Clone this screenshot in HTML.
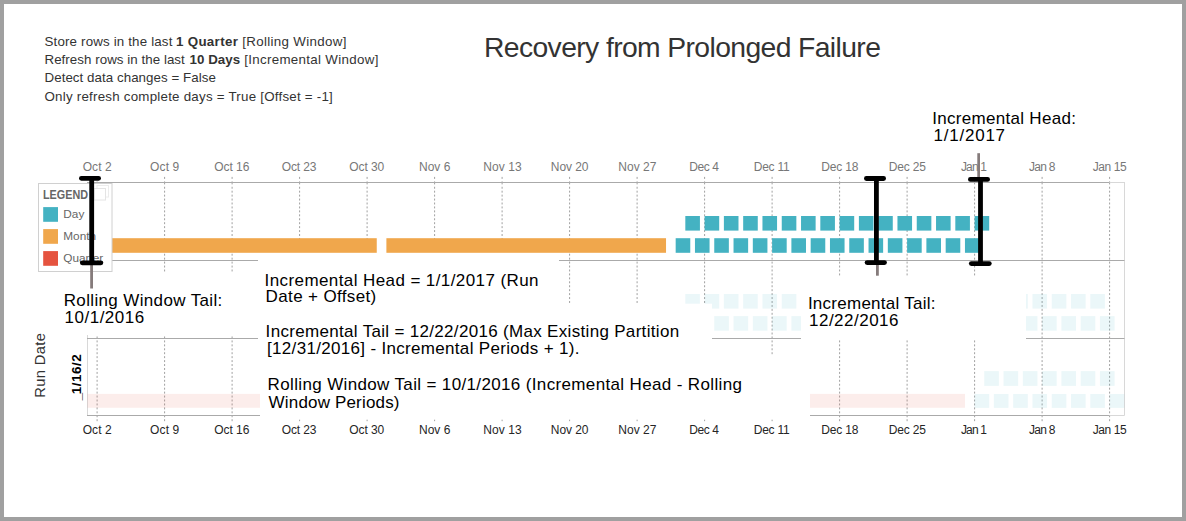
<!DOCTYPE html><html><head><meta charset="utf-8"><title>Recovery from Prolonged Failure</title><style>html,body{margin:0;padding:0;background:#a0a0a0;}svg{display:block}text{font-family:"Liberation Sans",Arial,sans-serif;}</style></head><body>
<svg width="1186" height="521" viewBox="0 0 1186 521">
<rect x="0" y="0" width="1186" height="521" fill="#a0a0a0"/>
<rect x="4" y="4" width="1178" height="513" fill="#ffffff"/>
<g stroke="#a0a0a0" stroke-width="1">
<line x1="97.1" y1="176.9" x2="97.1" y2="178.9"/>
<line x1="97.1" y1="181.4" x2="97.1" y2="184.4"/>
<line x1="97.1" y1="186.75" x2="97.1" y2="421.6" stroke-dasharray="1.97 1.97"/>
<line x1="164.6" y1="176.9" x2="164.6" y2="178.9"/>
<line x1="164.6" y1="181.4" x2="164.6" y2="184.4"/>
<line x1="164.6" y1="186.75" x2="164.6" y2="421.6" stroke-dasharray="1.97 1.97"/>
<line x1="232.1" y1="176.9" x2="232.1" y2="178.9"/>
<line x1="232.1" y1="181.4" x2="232.1" y2="184.4"/>
<line x1="232.1" y1="186.75" x2="232.1" y2="421.6" stroke-dasharray="1.97 1.97"/>
<line x1="299.6" y1="176.9" x2="299.6" y2="178.9"/>
<line x1="299.6" y1="181.4" x2="299.6" y2="184.4"/>
<line x1="299.6" y1="186.75" x2="299.6" y2="421.6" stroke-dasharray="1.97 1.97"/>
<line x1="367.1" y1="176.9" x2="367.1" y2="178.9"/>
<line x1="367.1" y1="181.4" x2="367.1" y2="184.4"/>
<line x1="367.1" y1="186.75" x2="367.1" y2="421.6" stroke-dasharray="1.97 1.97"/>
<line x1="434.6" y1="176.9" x2="434.6" y2="178.9"/>
<line x1="434.6" y1="181.4" x2="434.6" y2="184.4"/>
<line x1="434.6" y1="186.75" x2="434.6" y2="421.6" stroke-dasharray="1.97 1.97"/>
<line x1="502.1" y1="176.9" x2="502.1" y2="178.9"/>
<line x1="502.1" y1="181.4" x2="502.1" y2="184.4"/>
<line x1="502.1" y1="186.75" x2="502.1" y2="421.6" stroke-dasharray="1.97 1.97"/>
<line x1="569.6" y1="176.9" x2="569.6" y2="178.9"/>
<line x1="569.6" y1="181.4" x2="569.6" y2="184.4"/>
<line x1="569.6" y1="186.75" x2="569.6" y2="421.6" stroke-dasharray="1.97 1.97"/>
<line x1="637.1" y1="176.9" x2="637.1" y2="178.9"/>
<line x1="637.1" y1="181.4" x2="637.1" y2="184.4"/>
<line x1="637.1" y1="186.75" x2="637.1" y2="421.6" stroke-dasharray="1.97 1.97"/>
<line x1="704.6" y1="176.9" x2="704.6" y2="178.9"/>
<line x1="704.6" y1="181.4" x2="704.6" y2="184.4"/>
<line x1="704.6" y1="186.75" x2="704.6" y2="421.6" stroke-dasharray="1.97 1.97"/>
<line x1="772.1" y1="176.9" x2="772.1" y2="178.9"/>
<line x1="772.1" y1="181.4" x2="772.1" y2="184.4"/>
<line x1="772.1" y1="186.75" x2="772.1" y2="421.6" stroke-dasharray="1.97 1.97"/>
<line x1="839.6" y1="176.9" x2="839.6" y2="178.9"/>
<line x1="839.6" y1="181.4" x2="839.6" y2="184.4"/>
<line x1="839.6" y1="186.75" x2="839.6" y2="421.6" stroke-dasharray="1.97 1.97"/>
<line x1="907.1" y1="176.9" x2="907.1" y2="178.9"/>
<line x1="907.1" y1="181.4" x2="907.1" y2="184.4"/>
<line x1="907.1" y1="186.75" x2="907.1" y2="421.6" stroke-dasharray="1.97 1.97"/>
<line x1="974.6" y1="176.9" x2="974.6" y2="178.9"/>
<line x1="974.6" y1="181.4" x2="974.6" y2="184.4"/>
<line x1="974.6" y1="186.75" x2="974.6" y2="421.6" stroke-dasharray="1.97 1.97"/>
<line x1="1042.1" y1="176.9" x2="1042.1" y2="178.9"/>
<line x1="1042.1" y1="181.4" x2="1042.1" y2="184.4"/>
<line x1="1042.1" y1="186.75" x2="1042.1" y2="421.6" stroke-dasharray="1.97 1.97"/>
<line x1="1109.6" y1="176.9" x2="1109.6" y2="178.9"/>
<line x1="1109.6" y1="181.4" x2="1109.6" y2="184.4"/>
<line x1="1109.6" y1="186.75" x2="1109.6" y2="421.6" stroke-dasharray="1.97 1.97"/>
</g>
<g stroke="#d8d8d8" stroke-width="1" fill="none">
<line x1="1109" y1="182.5" x2="1124.5" y2="182.5"/>
<line x1="87.5" y1="182" x2="87.5" y2="415"/>
<line x1="1124.5" y1="182" x2="1124.5" y2="415.5"/>
<line x1="1109" y1="415.5" x2="1124.5" y2="415.5"/>
</g>
<g stroke="#aaaaaa" stroke-width="1" fill="none">
<line x1="87" y1="182.5" x2="1109.5" y2="182.5"/>
<line x1="87" y1="260.5" x2="1124.5" y2="260.5"/>
<line x1="87" y1="338.5" x2="1124.5" y2="338.5"/>
<line x1="87" y1="415.5" x2="1109.5" y2="415.5"/>
</g>
<rect x="87.46" y="238.2" width="289.29" height="14.6" fill="#f0a74c"/>
<rect x="386.39" y="238.2" width="279.64" height="14.6" fill="#f0a74c"/>
<rect x="685.32" y="216.0" width="14.60" height="14.6" fill="#44b2c2"/>
<rect x="704.60" y="216.0" width="14.60" height="14.6" fill="#44b2c2"/>
<rect x="723.89" y="216.0" width="14.60" height="14.6" fill="#44b2c2"/>
<rect x="743.17" y="216.0" width="14.60" height="14.6" fill="#44b2c2"/>
<rect x="762.46" y="216.0" width="14.60" height="14.6" fill="#44b2c2"/>
<rect x="781.75" y="216.0" width="14.60" height="14.6" fill="#44b2c2"/>
<rect x="801.03" y="216.0" width="14.60" height="14.6" fill="#44b2c2"/>
<rect x="820.32" y="216.0" width="14.60" height="14.6" fill="#44b2c2"/>
<rect x="839.60" y="216.0" width="14.60" height="14.6" fill="#44b2c2"/>
<rect x="858.89" y="216.0" width="14.60" height="14.6" fill="#44b2c2"/>
<rect x="878.17" y="216.0" width="14.60" height="14.6" fill="#44b2c2"/>
<rect x="897.46" y="216.0" width="14.60" height="14.6" fill="#44b2c2"/>
<rect x="916.75" y="216.0" width="14.60" height="14.6" fill="#44b2c2"/>
<rect x="936.03" y="216.0" width="14.60" height="14.6" fill="#44b2c2"/>
<rect x="955.32" y="216.0" width="14.60" height="14.6" fill="#44b2c2"/>
<rect x="974.60" y="216.0" width="14.60" height="14.6" fill="#44b2c2"/>
<rect x="675.67" y="238.2" width="14.60" height="14.6" fill="#44b2c2"/>
<rect x="694.96" y="238.2" width="14.60" height="14.6" fill="#44b2c2"/>
<rect x="714.25" y="238.2" width="14.60" height="14.6" fill="#44b2c2"/>
<rect x="733.53" y="238.2" width="14.60" height="14.6" fill="#44b2c2"/>
<rect x="752.82" y="238.2" width="14.60" height="14.6" fill="#44b2c2"/>
<rect x="772.10" y="238.2" width="14.60" height="14.6" fill="#44b2c2"/>
<rect x="791.39" y="238.2" width="14.60" height="14.6" fill="#44b2c2"/>
<rect x="810.67" y="238.2" width="14.60" height="14.6" fill="#44b2c2"/>
<rect x="829.96" y="238.2" width="14.60" height="14.6" fill="#44b2c2"/>
<rect x="849.25" y="238.2" width="14.60" height="14.6" fill="#44b2c2"/>
<rect x="868.53" y="238.2" width="14.60" height="14.6" fill="#44b2c2"/>
<rect x="887.82" y="238.2" width="14.60" height="14.6" fill="#44b2c2"/>
<rect x="907.10" y="238.2" width="14.60" height="14.6" fill="#44b2c2"/>
<rect x="926.39" y="238.2" width="14.60" height="14.6" fill="#44b2c2"/>
<rect x="945.68" y="238.2" width="14.60" height="14.6" fill="#44b2c2"/>
<rect x="964.96" y="238.2" width="14.60" height="14.6" fill="#44b2c2"/>
<rect x="685.32" y="294.0" width="14.60" height="14.6" fill="#44b2c2" fill-opacity="0.105"/>
<rect x="704.60" y="294.0" width="14.60" height="14.6" fill="#44b2c2" fill-opacity="0.105"/>
<rect x="723.89" y="294.0" width="14.60" height="14.6" fill="#44b2c2" fill-opacity="0.105"/>
<rect x="743.17" y="294.0" width="14.60" height="14.6" fill="#44b2c2" fill-opacity="0.105"/>
<rect x="762.46" y="294.0" width="14.60" height="14.6" fill="#44b2c2" fill-opacity="0.105"/>
<rect x="781.75" y="294.0" width="14.60" height="14.6" fill="#44b2c2" fill-opacity="0.105"/>
<rect x="801.03" y="294.0" width="14.60" height="14.6" fill="#44b2c2" fill-opacity="0.105"/>
<rect x="820.32" y="294.0" width="14.60" height="14.6" fill="#44b2c2" fill-opacity="0.105"/>
<rect x="839.60" y="294.0" width="14.60" height="14.6" fill="#44b2c2" fill-opacity="0.105"/>
<rect x="858.89" y="294.0" width="14.60" height="14.6" fill="#44b2c2" fill-opacity="0.105"/>
<rect x="878.17" y="294.0" width="14.60" height="14.6" fill="#44b2c2" fill-opacity="0.105"/>
<rect x="897.46" y="294.0" width="14.60" height="14.6" fill="#44b2c2" fill-opacity="0.105"/>
<rect x="916.75" y="294.0" width="14.60" height="14.6" fill="#44b2c2" fill-opacity="0.105"/>
<rect x="936.03" y="294.0" width="14.60" height="14.6" fill="#44b2c2" fill-opacity="0.105"/>
<rect x="955.32" y="294.0" width="14.60" height="14.6" fill="#44b2c2" fill-opacity="0.105"/>
<rect x="974.60" y="294.0" width="14.60" height="14.6" fill="#44b2c2" fill-opacity="0.105"/>
<rect x="993.89" y="294.0" width="14.60" height="14.6" fill="#44b2c2" fill-opacity="0.105"/>
<rect x="1013.18" y="294.0" width="14.60" height="14.6" fill="#44b2c2" fill-opacity="0.105"/>
<rect x="1032.46" y="294.0" width="14.60" height="14.6" fill="#44b2c2" fill-opacity="0.105"/>
<rect x="1051.75" y="294.0" width="14.60" height="14.6" fill="#44b2c2" fill-opacity="0.105"/>
<rect x="1071.03" y="294.0" width="14.60" height="14.6" fill="#44b2c2" fill-opacity="0.105"/>
<rect x="1090.32" y="294.0" width="14.60" height="14.6" fill="#44b2c2" fill-opacity="0.105"/>
<rect x="675.67" y="316.1" width="14.60" height="14.6" fill="#44b2c2" fill-opacity="0.105"/>
<rect x="694.96" y="316.1" width="14.60" height="14.6" fill="#44b2c2" fill-opacity="0.105"/>
<rect x="714.25" y="316.1" width="14.60" height="14.6" fill="#44b2c2" fill-opacity="0.105"/>
<rect x="733.53" y="316.1" width="14.60" height="14.6" fill="#44b2c2" fill-opacity="0.105"/>
<rect x="752.82" y="316.1" width="14.60" height="14.6" fill="#44b2c2" fill-opacity="0.105"/>
<rect x="772.10" y="316.1" width="14.60" height="14.6" fill="#44b2c2" fill-opacity="0.105"/>
<rect x="791.39" y="316.1" width="14.60" height="14.6" fill="#44b2c2" fill-opacity="0.105"/>
<rect x="810.67" y="316.1" width="14.60" height="14.6" fill="#44b2c2" fill-opacity="0.105"/>
<rect x="829.96" y="316.1" width="14.60" height="14.6" fill="#44b2c2" fill-opacity="0.105"/>
<rect x="849.25" y="316.1" width="14.60" height="14.6" fill="#44b2c2" fill-opacity="0.105"/>
<rect x="868.53" y="316.1" width="14.60" height="14.6" fill="#44b2c2" fill-opacity="0.105"/>
<rect x="887.82" y="316.1" width="14.60" height="14.6" fill="#44b2c2" fill-opacity="0.105"/>
<rect x="907.10" y="316.1" width="14.60" height="14.6" fill="#44b2c2" fill-opacity="0.105"/>
<rect x="926.39" y="316.1" width="14.60" height="14.6" fill="#44b2c2" fill-opacity="0.105"/>
<rect x="945.68" y="316.1" width="14.60" height="14.6" fill="#44b2c2" fill-opacity="0.105"/>
<rect x="964.96" y="316.1" width="14.60" height="14.6" fill="#44b2c2" fill-opacity="0.105"/>
<rect x="984.25" y="316.1" width="14.60" height="14.6" fill="#44b2c2" fill-opacity="0.105"/>
<rect x="1003.53" y="316.1" width="14.60" height="14.6" fill="#44b2c2" fill-opacity="0.105"/>
<rect x="1022.82" y="316.1" width="14.60" height="14.6" fill="#44b2c2" fill-opacity="0.105"/>
<rect x="1042.10" y="316.1" width="14.60" height="14.6" fill="#44b2c2" fill-opacity="0.105"/>
<rect x="1061.39" y="316.1" width="14.60" height="14.6" fill="#44b2c2" fill-opacity="0.105"/>
<rect x="1080.68" y="316.1" width="14.60" height="14.6" fill="#44b2c2" fill-opacity="0.105"/>
<rect x="1099.96" y="316.1" width="14.60" height="14.6" fill="#44b2c2" fill-opacity="0.105"/>
<rect x="87.46" y="393.9" width="877.50" height="13.9" fill="#e5533f" fill-opacity="0.105"/>
<rect x="984.25" y="371.1" width="14.60" height="14.8" fill="#44b2c2" fill-opacity="0.105"/>
<rect x="1003.53" y="371.1" width="14.60" height="14.8" fill="#44b2c2" fill-opacity="0.105"/>
<rect x="1022.82" y="371.1" width="14.60" height="14.8" fill="#44b2c2" fill-opacity="0.105"/>
<rect x="1042.10" y="371.1" width="14.60" height="14.8" fill="#44b2c2" fill-opacity="0.105"/>
<rect x="1061.39" y="371.1" width="14.60" height="14.8" fill="#44b2c2" fill-opacity="0.105"/>
<rect x="1080.68" y="371.1" width="14.60" height="14.8" fill="#44b2c2" fill-opacity="0.105"/>
<rect x="1099.96" y="371.1" width="14.60" height="14.8" fill="#44b2c2" fill-opacity="0.105"/>
<rect x="974.60" y="394.0" width="14.60" height="13.9" fill="#44b2c2" fill-opacity="0.105"/>
<rect x="993.89" y="394.0" width="14.60" height="13.9" fill="#44b2c2" fill-opacity="0.105"/>
<rect x="1013.18" y="394.0" width="14.60" height="13.9" fill="#44b2c2" fill-opacity="0.105"/>
<rect x="1032.46" y="394.0" width="14.60" height="13.9" fill="#44b2c2" fill-opacity="0.105"/>
<rect x="1051.75" y="394.0" width="14.60" height="13.9" fill="#44b2c2" fill-opacity="0.105"/>
<rect x="1071.03" y="394.0" width="14.60" height="13.9" fill="#44b2c2" fill-opacity="0.105"/>
<rect x="1090.32" y="394.0" width="14.60" height="13.9" fill="#44b2c2" fill-opacity="0.105"/>
<rect x="1109.60" y="394.0" width="14.60" height="13.9" fill="#44b2c2" fill-opacity="0.105"/>
<rect x="38.5" y="183.5" width="73.5" height="88" fill="#ffffff" stroke="#d0d0d0" stroke-width="1"/>
<rect x="97" y="185.5" width="11.5" height="11.5" fill="none" stroke="#ececec" stroke-width="1"/>
<rect x="94" y="188.5" width="11.5" height="11.5" fill="#ffffff" stroke="#e4e4e4" stroke-width="1"/>
<text transform="translate(43.0,198.7) scale(0.9,1)" font-size="12" font-weight="bold" fill="#666666">LEGEND</text>
<rect x="43.2" y="207.1" width="14.8" height="14.7" fill="#44b2c2"/>
<text x="63.3" y="217.7" font-size="11.8" fill="#666666">Day</text>
<rect x="43.2" y="229.1" width="14.8" height="14.7" fill="#f0a74c"/>
<text x="63.3" y="239.6" font-size="11.8" fill="#666666">Month</text>
<rect x="43.2" y="251.1" width="14.8" height="14.7" fill="#e5533f"/>
<text x="63.3" y="261.5" font-size="11.8" fill="#666666">Quarter</text>
<rect x="60" y="272" width="198" height="63" fill="#ffffff"/>
<rect x="258" y="253" width="301" height="51" fill="#ffffff"/>
<rect x="258" y="303.7" width="454" height="53" fill="#ffffff"/>
<rect x="260" y="356" width="550" height="63.6" fill="#ffffff"/>
<rect x="801" y="276" width="225" height="63.6" fill="#ffffff"/>
<rect x="928" y="104" width="156" height="49" fill="#ffffff"/>
<text x="82.7" y="171" font-size="12" fill="#777777" style="letter-spacing:0.075px">Oct 2</text>
<text x="82.7" y="433.6" font-size="12" fill="#252525" style="letter-spacing:0.075px">Oct 2</text>
<text x="150.0" y="171" font-size="12" fill="#777777" style="letter-spacing:0.15px">Oct 9</text>
<text x="150.0" y="433.6" font-size="12" fill="#252525" style="letter-spacing:0.15px">Oct 9</text>
<text x="214.3" y="171" font-size="12" fill="#777777" style="letter-spacing:-0.06px">Oct 16</text>
<text x="214.3" y="433.6" font-size="12" fill="#252525" style="letter-spacing:-0.06px">Oct 16</text>
<text x="281.7" y="171" font-size="12" fill="#777777" style="letter-spacing:-0.14px">Oct 23</text>
<text x="281.7" y="433.6" font-size="12" fill="#252525" style="letter-spacing:-0.14px">Oct 23</text>
<text x="349.2" y="171" font-size="12" fill="#777777" style="letter-spacing:-0.06px">Oct 30</text>
<text x="349.2" y="433.6" font-size="12" fill="#252525" style="letter-spacing:-0.06px">Oct 30</text>
<text x="419.0" y="171" font-size="12" fill="#777777" style="letter-spacing:0.0px">Nov 6</text>
<text x="419.0" y="433.6" font-size="12" fill="#252525" style="letter-spacing:0.0px">Nov 6</text>
<text x="483.3" y="171" font-size="12" fill="#777777" style="letter-spacing:0.06px">Nov 13</text>
<text x="483.3" y="433.6" font-size="12" fill="#252525" style="letter-spacing:0.06px">Nov 13</text>
<text x="550.8" y="171" font-size="12" fill="#777777" style="letter-spacing:-0.06px">Nov 20</text>
<text x="550.8" y="433.6" font-size="12" fill="#252525" style="letter-spacing:-0.06px">Nov 20</text>
<text x="618.2" y="171" font-size="12" fill="#777777" style="letter-spacing:0.06px">Nov 27</text>
<text x="618.2" y="433.6" font-size="12" fill="#252525" style="letter-spacing:0.06px">Nov 27</text>
<text x="689.3" y="171" font-size="12" fill="#777777" style="letter-spacing:-0.4px">Dec 4</text>
<text x="689.3" y="433.6" font-size="12" fill="#252525" style="letter-spacing:-0.4px">Dec 4</text>
<text x="753.8" y="171" font-size="12" fill="#777777" style="letter-spacing:-0.26px">Dec 11</text>
<text x="753.8" y="433.6" font-size="12" fill="#252525" style="letter-spacing:-0.26px">Dec 11</text>
<text x="821.2" y="171" font-size="12" fill="#777777" style="letter-spacing:-0.16px">Dec 18</text>
<text x="821.2" y="433.6" font-size="12" fill="#252525" style="letter-spacing:-0.16px">Dec 18</text>
<text x="888.7" y="171" font-size="12" fill="#777777" style="letter-spacing:-0.16px">Dec 25</text>
<text x="888.7" y="433.6" font-size="12" fill="#252525" style="letter-spacing:-0.16px">Dec 25</text>
<text x="960.9" y="171" font-size="12" fill="#777777" style="letter-spacing:-0.825px">Jan 1</text>
<text x="960.9" y="433.6" font-size="12" fill="#252525" style="letter-spacing:-0.825px">Jan 1</text>
<text x="1028.9" y="171" font-size="12" fill="#777777" style="letter-spacing:-0.675px">Jan 8</text>
<text x="1028.9" y="433.6" font-size="12" fill="#252525" style="letter-spacing:-0.675px">Jan 8</text>
<text x="1092.8" y="171" font-size="12" fill="#777777" style="letter-spacing:-0.44px">Jan 15</text>
<text x="1092.8" y="433.6" font-size="12" fill="#252525" style="letter-spacing:-0.44px">Jan 15</text>
<text x="44.5" y="45.8" font-size="13.33" fill="#333333" style="letter-spacing:0.162px">Store rows in the last</text>
<text x="175.9" y="45.8" font-size="13.33" font-weight="bold" fill="#333333" style="letter-spacing:0.337px">1 Quarter</text>
<text x="242.2" y="45.8" font-size="13.33" fill="#333333" style="letter-spacing:0.333px">[Rolling Window]</text>
<text x="44.5" y="63.8" font-size="13.33" fill="#333333" style="letter-spacing:0.043px">Refresh rows in the last</text>
<text x="189.6" y="63.8" font-size="13.33" font-weight="bold" fill="#333333" style="letter-spacing:0.017px">10 Days</text>
<text x="244.2" y="63.8" font-size="13.33" fill="#333333" style="letter-spacing:0.316px">[Incremental Window]</text>
<text x="44.5" y="82.4" font-size="13.33" fill="#333333" style="letter-spacing:0.05px">Detect data changes = False</text>
<text x="44.5" y="100.5" font-size="13.33" fill="#333333" style="letter-spacing:0.233px">Only refresh complete days = True [Offset = -1]</text>
<text x="484.0" y="57" font-size="28.3" fill="#333333" style="letter-spacing:-0.61px">Recovery from Prolonged Failure</text>
<text x="63.7" y="305.7" font-size="17" fill="#000000" style="letter-spacing:0.358px">Rolling Window Tail:</text>
<text x="64.6" y="322.5" font-size="17" fill="#000000" style="letter-spacing:0.488px">10/1/2016</text>
<text x="264.6" y="285.7" font-size="17" fill="#000000" style="letter-spacing:0.406px">Incremental Head = 1/1/2017 (Run</text>
<text x="265.6" y="302.4" font-size="17" fill="#000000" style="letter-spacing:0.362px">Date + Offset)</text>
<text x="265.6" y="336.8" font-size="17" fill="#000000" style="letter-spacing:0.317px">Incremental Tail = 12/22/2016 (Max Existing Partition</text>
<text x="267.0" y="354.4" font-size="17" fill="#000000" style="letter-spacing:0.318px">[12/31/2016] - Incremental Periods + 1).</text>
<text x="267.6" y="389.5" font-size="17" fill="#000000" style="letter-spacing:0.355px">Rolling Window Tail = 10/1/2016 (Incremental Head - Rolling</text>
<text x="268.6" y="407.7" font-size="17" fill="#000000" style="letter-spacing:0.171px">Window Periods)</text>
<text x="807.9" y="308.6" font-size="17" fill="#000000" style="letter-spacing:0.256px">Incremental Tail:</text>
<text x="809.0" y="326.1" font-size="17" fill="#000000" style="letter-spacing:0.489px">12/22/2016</text>
<text x="932.2" y="124.0" font-size="17" fill="#000000" style="letter-spacing:0.3px">Incremental Head:</text>
<text x="933.5" y="140.6" font-size="17" fill="#000000" style="letter-spacing:0.771px">1/1/2017</text>
<text transform="translate(45.1,365.2) rotate(-90)" font-size="14.7" fill="#333333" text-anchor="middle" style="letter-spacing:0.4px">Run Date</text>
<text transform="translate(80.7,400.2) rotate(-90)" font-size="13.5" font-weight="bold" fill="#000000" style="letter-spacing:0.5px">_<tspan dx="-2">1/16/2</tspan></text>
<rect x="90.2" y="265" width="2.8" height="23.5" fill="#857b7b"/>
<rect x="876" y="265" width="2.8" height="10.7" fill="#857b7b"/>
<rect x="977.3" y="153.2" width="2.7" height="24" fill="#857b7b"/>
<rect x="89.3" y="176.1" width="4.8" height="88.9" fill="#000"/>
<rect x="79.0" y="175.9" width="22.0" height="4.8" rx="2.4" fill="#000"/>
<rect x="79.9" y="260.4" width="23.4" height="4.8" rx="2.4" fill="#000"/>
<rect x="874.0" y="176.3" width="4.8" height="88.5" fill="#000"/>
<rect x="864.0" y="176.1" width="22.0" height="4.8" rx="2.4" fill="#000"/>
<rect x="864.7" y="260.2" width="22.2" height="4.8" rx="2.4" fill="#000"/>
<rect x="978.1" y="177.2" width="4.8" height="88.6" fill="#000"/>
<rect x="968.0" y="177.0" width="22.0" height="4.8" rx="2.4" fill="#000"/>
<rect x="968.9" y="261.2" width="22.8" height="4.8" rx="2.4" fill="#000"/>
</svg></body></html>
